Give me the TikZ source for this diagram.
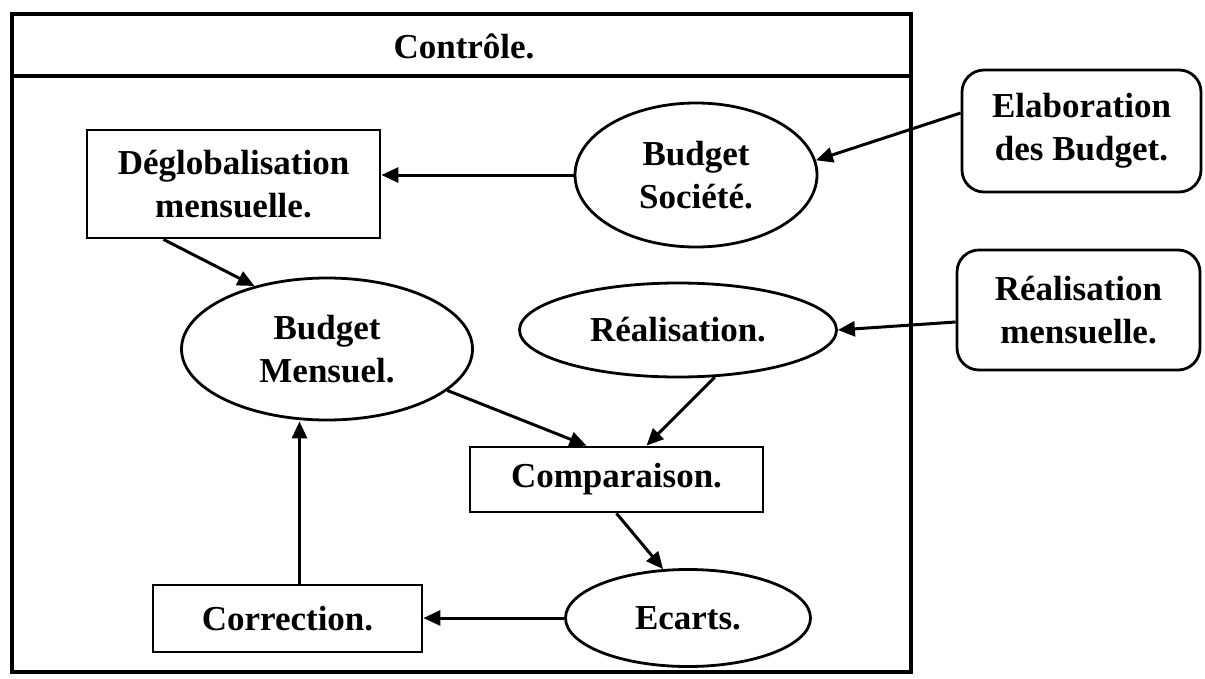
\documentclass[tikz,border=0pt]{standalone}
\usepackage{fontspec}
\setmainfont{Liberation Serif}
\usetikzlibrary{shapes.geometric,arrows.meta}
\begin{document}
\begin{tikzpicture}[x=1pt,y=-1pt,
  txt/.style={font=\fontsize{35}{43}\selectfont\bfseries, align=center, inner sep=0pt},
  boxnode/.style={txt, draw, line width=2.8pt, rectangle},
  roundnode/.style={txt, draw, line width=2.8pt, rectangle, rounded corners=22pt},
  ovalnode/.style={txt, draw, line width=2.8pt, ellipse},
  arr/.style={line width=3pt, -{Triangle[length=17pt,width=15pt]}}]
\useasboundingbox (0,0) rectangle (1205,678);

% outer frame with its title bar
\draw[line width=3.5pt] (12,14) rectangle (911,672);
\draw[line width=3.5pt] (12,76) -- (911,76);
\node[txt] (title) at (464,46) {Contrôle.};

% nodes
\node[boxnode, minimum width=293pt, minimum height=108pt] (deglob) at (233.5,184) {Déglobalisation\\mensuelle.};
\node[ovalnode, minimum width=242pt, minimum height=144pt] (bsoc) at (696,175) {Budget\\Société.};
\node[roundnode, minimum width=239pt, minimum height=122pt] (elab) at (1081.5,131) {Elaboration\\des Budget.};
\node[ovalnode, minimum width=291pt, minimum height=142pt] (bmens) at (327,349) {Budget\\Mensuel.};
\node[ovalnode, minimum width=317pt, minimum height=94pt] (real) at (678,330) {Réalisation.};
\node[roundnode, minimum width=243pt, minimum height=120pt] (realm) at (1078.5,310) {Réalisation\\mensuelle.};
\node[boxnode, minimum width=293pt, minimum height=65pt] (comp) at (616.5,479.5) {Comparaison.};
\node[ovalnode, minimum width=245pt, minimum height=97pt] (ecarts) at (688,618) {Ecarts.};
\node[boxnode, minimum width=269pt, minimum height=67pt] (corr) at (287.5,618.5) {Correction.};

% connectors
\draw[arr] (bsoc.west) -- (bsoc.west -| deglob.east);
\draw[arr] ([yshift=18pt]elab.west) -- (bsoc.7);
\draw[arr] ([xshift=-70pt]deglob.south) -- (bmens.139);
\draw[arr] ([yshift=-12pt]realm.west) -- (real.east);
\draw[arr] (bmens.341) -- ([xshift=-30pt]comp.north);
\draw[arr] (real.308) -- ([xshift=30pt]comp.north);
\draw[arr] (comp.south) -- (ecarts.117);
\draw[arr] (ecarts.west) -- (ecarts.west -| corr.east);
\draw[arr] ([xshift=12pt]corr.north) -- ([xshift=12pt]corr.north |- bmens.south);
\end{tikzpicture}
\end{document}
